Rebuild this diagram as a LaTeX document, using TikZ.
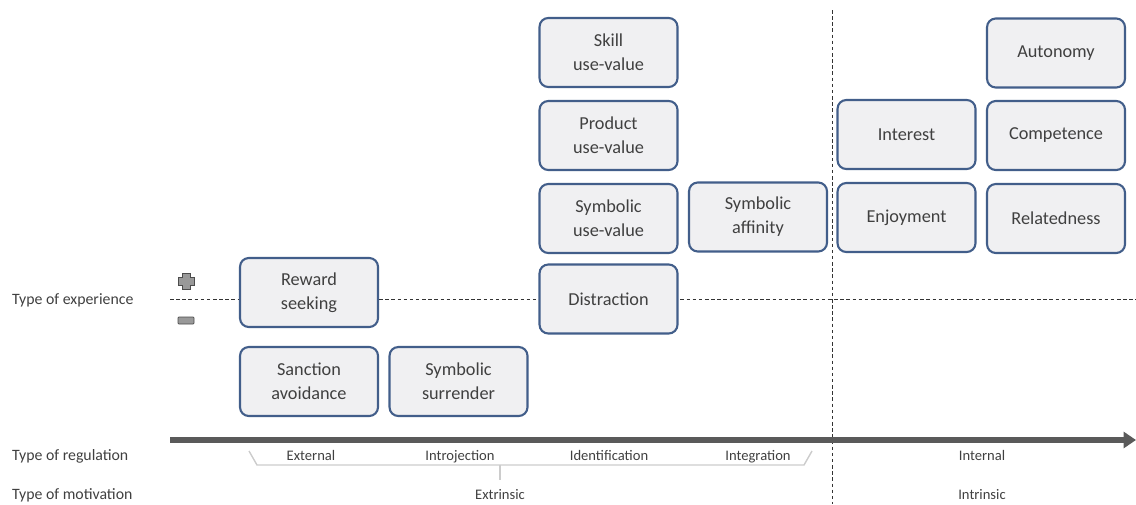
\documentclass[tikz,border=0pt]{standalone}
\usepackage{fontspec}
\setmainfont{Carlito}
\usetikzlibrary{arrows.meta}
\definecolor{boxline}{RGB}{66,94,138}
\definecolor{boxfill}{RGB}{240,240,242}
\definecolor{txt}{RGB}{64,64,64}
\definecolor{axisgray}{RGB}{90,90,90}
\begin{document}
\begin{tikzpicture}[x=0.02cm,y=-0.02cm,
  every node/.style={text=txt},
  mbox/.style={draw=boxline,line width=1.2pt,fill=boxfill,rounded corners=5pt,
    minimum width=2.76cm,minimum height=1.38cm,align=center,
    font=\fontsize{10.4}{13.6}\selectfont},
  lbl/.style={font=\fontsize{9}{11}\selectfont,text height=1.6ex,text depth=0.5ex},
  reg/.style={font=\fontsize{8.3}{10}\selectfont,text height=1.6ex,text depth=0.5ex},
  guide/.style={black!80,dashed,line width=0.5pt,dash pattern=on 2pt off 1.5pt}]
\useasboundingbox (0,0) rectangle (1136,504);
% guides behind the boxes
\coordinate (hl) at (170,299);
\coordinate (hr) at (1136,299);
\coordinate (vt) at (832,10);
\coordinate (vb) at (832,504);
\draw[guide] (hl) -- (hr);
\draw[guide] (vt) -- (vb);
% boxes
\node[mbox] (reward) at (309,292.5) {Reward\\seeking};
\node[mbox] (sanction) at (309,381.5) {Sanction\\avoidance};
\node[mbox] (surrender) at (458.5,381.5) {Symbolic\\surrender};
\node[mbox] (skill) at (608.5,52.5) {Skill\\use-value};
\node[mbox] (product) at (608.5,135.5) {Product\\use-value};
\node[mbox] (symuse) at (608.5,218.5) {Symbolic\\use-value};
\node[mbox] (distract) at (608.5,299) {Distraction};
\node[mbox] (affinity) at (758,217) {Symbolic\\affinity};
\node[mbox] (interest) at (906.5,134.5) {Interest};
\node[mbox] (enjoy) at (906.5,217.5) {Enjoyment};
\node[mbox] (autonomy) at (1056,53) {Autonomy};
\node[mbox] (compet) at (1056,135.5) {Competence};
\node[mbox] (related) at (1056,218.5) {Relatedness};
% plus and minus signs
\filldraw[draw=black!70,fill=black!40,line width=0.4pt]
  (182,273) -- (190,273) -- (190,277) -- (194,277) -- (194,285) -- (190,285)
  -- (190,289) -- (182,289) -- (182,285) -- (178,285) -- (178,277) -- (182,277) -- cycle;
\filldraw[draw=black!70,fill=black!40,line width=0.4pt,rounded corners=0.5pt]
  (178,317) rectangle (194,324);
% axis
\coordinate (ax0) at (170,440);
\coordinate (ax1) at (1136,440);
\draw[axisgray,line width=3.3pt,-{Triangle[length=7pt,width=9pt]}] (ax0) -- (ax1);
% row labels
\node[lbl,anchor=west] (texp) at (6,300) {Type of experience};
\node[lbl,anchor=west] (treg) at (6,456) {Type of regulation};
\node[lbl,anchor=west] (tmot) at (6,495) {Type of motivation};
\node[reg] (ext) at (311,456) {External};
\node[reg] (intro) at (460,456) {Introjection};
\node[reg] (ident) at (609,456) {Identification};
\node[reg] (integ) at (758,456) {Integration};
\node[reg] (intern) at (982,456) {Internal};
\node[reg] (extr) at (500,495) {Extrinsic};
\node[reg] (intr) at (982,495) {Intrinsic};
% brace under the extrinsic types
\coordinate (b0) at (249,451);
\coordinate (b1) at (812,451);
\coordinate (bm) at (500,465);
\draw[black!20,line width=0.8pt] (b0) -- (257,465) -- (804,465) -- (b1);
\draw[black!20,line width=0.8pt] (bm) -- (extr.north);
\end{tikzpicture}
\end{document}
